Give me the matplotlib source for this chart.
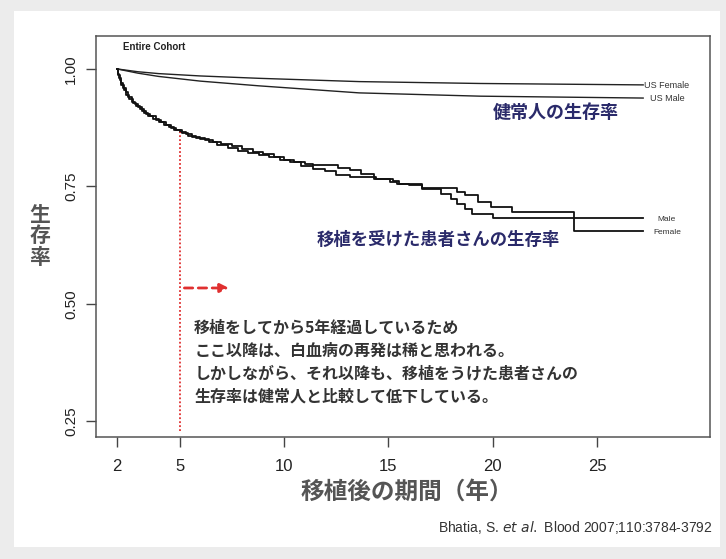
import matplotlib
matplotlib.use('Agg')
import matplotlib.pyplot as plt
from matplotlib.patches import Rectangle

plt.rcParams['font.family'] = ['Liberation Sans', 'Noto Sans CJK JP', 'DejaVu Sans']
JP = ['Noto Sans CJK JP', 'DejaVu Sans']

# Kaplan-Meier curves (years after transplant, survival)
female_t = [2.0, 2.05, 2.12, 2.2, 2.3, 2.42, 2.55, 2.7, 2.85, 3.0, 3.2, 3.4, 3.6,
            3.85, 4.1, 4.35, 4.6, 4.85, 5.1, 5.4, 5.8, 6.2, 6.6, 7.0, 7.5, 8.0,
            8.5, 9.0, 9.5, 10.0, 10.5, 11.0, 11.4, 12.6, 13.15, 13.7, 14.3, 15.1,
            15.4, 16.0, 16.6, 18.3, 18.65, 19.3, 19.9, 20.9, 23.9, 27.2]
female_s = [1.0, 0.99, 0.98, 0.97, 0.96, 0.95, 0.94, 0.93, 0.925, 0.918, 0.911,
            0.905, 0.899, 0.892, 0.886, 0.880, 0.875, 0.870, 0.864, 0.858, 0.852,
            0.848, 0.845, 0.840, 0.835, 0.830, 0.823, 0.818, 0.812, 0.806, 0.801,
            0.797, 0.796, 0.789, 0.784, 0.777, 0.766, 0.759, 0.756, 0.752, 0.746,
            0.738, 0.731, 0.717, 0.706, 0.695, 0.655, 0.655]

male_t = [2.0, 2.06, 2.14, 2.22, 2.33, 2.45, 2.6, 2.75, 2.9, 3.1, 3.3, 3.5, 3.75,
          4.0, 4.25, 4.5, 4.75, 5.0, 5.3, 5.6, 6.0, 6.4, 6.8, 7.3, 7.8, 8.3, 8.8,
          9.3, 9.8, 10.3, 10.8, 11.4, 11.95, 12.5, 13.15, 14.4, 15.2, 15.5, 16.6,
          17.5, 18.0, 18.3, 18.65, 19.0, 20.0, 27.2]
male_s = [1.0, 0.988, 0.976, 0.966, 0.955, 0.945, 0.936, 0.928, 0.921, 0.914,
          0.907, 0.900, 0.893, 0.887, 0.881, 0.876, 0.871, 0.866, 0.861, 0.856,
          0.850, 0.845, 0.838, 0.832, 0.826, 0.821, 0.817, 0.812, 0.807, 0.801,
          0.794, 0.788, 0.782, 0.775, 0.770, 0.766, 0.761, 0.756, 0.744, 0.734,
          0.724, 0.713, 0.703, 0.692, 0.682, 0.682]

# US general population
us_t = [2.0, 3.0, 4.0, 6.0, 8.8, 13.6, 19.4, 27.2]
us_female = [1.0, 0.994, 0.990, 0.985, 0.980, 0.973, 0.969, 0.966]
us_male = [1.0, 0.991, 0.984, 0.974, 0.964, 0.949, 0.942, 0.938]

xticks = [2, 5, 10, 15, 20, 25]
yticks = [0.25, 0.50, 0.75, 1.00]

note = ['移植をしてから5年経過しているため',
        'ここ以降は、白血病の再発は稀と思われる。',
        'しかしながら、それ以降も、移植をうけた患者さんの',
        '生存率は健常人と比較して低下している。']

W, H = 726, 559
fig = plt.figure(figsize=(W / 100, H / 100), dpi=100, facecolor='#ececec')
fig.patches.append(Rectangle((14 / W, 12 / H), 706 / W, 536 / H,
                             transform=fig.transFigure, facecolor='white',
                             edgecolor='none', zorder=-10))

ax = fig.add_axes([96 / W, 1 - 437 / H, 614 / W, 401 / H])
ax.set_xlim(1.0, 30.4)
ax.set_ylim(0.217, 1.07)

ax.plot(us_t, us_female, color='#222222', lw=1.0)
ax.plot(us_t, us_male, color='#222222', lw=1.0)
ax.step(female_t, female_s, where='post', color='#111111', lw=1.3)
ax.step(male_t, male_s, where='post', color='#111111', lw=1.3)

ax.set_xticks(xticks)
ax.set_xticklabels([str(v) for v in xticks], fontsize=12, color='#222222')
ax.set_yticks(yticks)
ax.set_yticklabels([f'{v:.2f}' for v in yticks], fontsize=11, rotation=90,
                   va='center', color='#222222')
ax.tick_params(direction='out', length=7, width=1, color='#444444', pad=6)
ax.tick_params(axis='x', pad=9)
for s in ax.spines.values():
    s.set_color('#555555')
    s.set_linewidth(1.1)

# red markers around year 5
ax.plot([5, 5], [0.229, 0.866], color='#e03030', lw=1.3, ls=(0, (1, 1.2)))
ax.annotate('', xy=(7.5, 0.534), xytext=(5.1, 0.534),
            arrowprops=dict(arrowstyle='-|>', color='#e03030', lw=2.0,
                            ls=(0, (3, 2)), mutation_scale=13))

ax.text(2.3, 1.047, 'Entire Cohort', fontsize=7, weight='bold', color='#222222',
        va='center')
ax.text(27.25, 0.964, 'US Female', fontsize=6.5, color='#333333', va='center')
ax.text(27.55, 0.938, 'US Male', fontsize=6.5, color='#333333', va='center')
ax.text(27.9, 0.680, 'Male', fontsize=6, color='#333333', va='center')
ax.text(27.7, 0.652, 'Female', fontsize=6, color='#333333', va='center')

ax.text(20.0, 0.908, '健常人の生存率', family=JP, fontsize=13, weight='bold',
        color='#2a2a6a', va='center')
ax.text(11.55, 0.637, '移植を受けた患者さんの生存率', family=JP, fontsize=12.5,
        weight='bold', color='#2a2a6a', va='center')

for i, line in enumerate(note):
    ax.text(5.7, 0.449 - i * 0.0487, line, family=JP, fontsize=11.5,
            weight='bold', color='#333333', va='center')

fig.text(40 / W, 1 - 236 / H, '生\n存\n率', family=JP, fontsize=15,
         weight='bold', color='#555555', ha='center', va='center',
         linespacing=1.05)
fig.text(407 / W, 1 - 492 / H, '移植後の期間（年）', family=JP, fontsize=17,
         weight='bold', color='#555555', ha='center', va='center')

fig.text(713 / W, 1 - 527 / H, 'Bhatia, S. $\\it{et\\ al.}$ Blood 2007;110:3784-3792',
         fontsize=10, color='#333333', ha='right', va='center')

fig.savefig('out.png', dpi=100, facecolor=fig.get_facecolor())
